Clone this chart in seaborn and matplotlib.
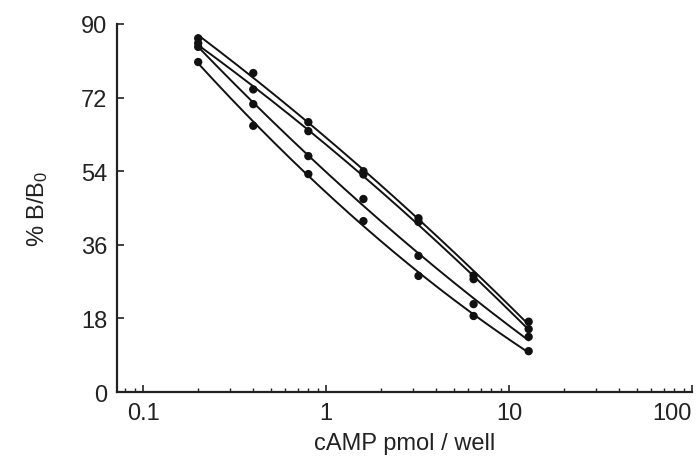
import seaborn as sns
import matplotlib.pyplot as plt
import matplotlib.ticker as mticker
import pandas as pd
import numpy as np

# --- data ---
camp = [0.2, 0.4, 0.8, 1.6, 3.2, 6.4, 12.8]
series_a = [86.5, 78.0, 66.0, 54.0, 42.5, 28.5, 17.2]
series_b = [85.3, 74.0, 63.8, 53.2, 41.6, 27.6, 15.4]
series_c = [84.4, 70.4, 57.7, 47.2, 33.3, 21.5, 13.5]
series_d = [80.7, 65.1, 53.3, 41.8, 28.4, 18.6, 10.0]
names = ["A", "B", "C", "D"]
x_ticks = [0.1, 1, 10, 100]
x_tick_labels = ["0.1", "1", "10", "100"]
y_ticks = [0, 18, 36, 54, 72, 90]

# long table of points
rows = []
for name, vals in zip(names, [series_a, series_b, series_c, series_d]):
    for x, y in zip(camp, vals):
        rows.append({"series": name, "cAMP": x, "B": y})
df = pd.DataFrame(rows)

# smooth fitted curve per series (quadratic in log x)
fits = []
xs = np.logspace(np.log10(camp[0]), np.log10(camp[-1]), 200)
for name, grp in df.groupby("series"):
    coef = np.polyfit(np.log10(grp["cAMP"]), grp["B"], 2)
    fits.append(pd.DataFrame({"series": name, "cAMP": xs,
                              "B": np.polyval(coef, np.log10(xs))}))
fit_df = pd.concat(fits)

# --- styling ---
sns.set_style("ticks")
plt.rcParams["font.family"] = ["Liberation Sans", "DejaVu Sans"]
plt.rcParams["mathtext.default"] = "regular"

fig = plt.figure(figsize=(6.99, 4.77), dpi=100)
ax = fig.add_axes([0.1674, 0.176, 0.8226, 0.7716])

black = {n: "#111111" for n in names}
sns.lineplot(data=fit_df, x="cAMP", y="B", hue="series", palette=black,
             linewidth=1.4, legend=False, ax=ax, estimator=None, sort=False)
sns.scatterplot(data=df, x="cAMP", y="B", hue="series", palette=black,
                s=36, edgecolor="none", legend=False, ax=ax, zorder=3)

ax.set_xscale("log")
ax.set_xlim(0.072, 100)
ax.set_ylim(0, 90)
ax.set_xticks(x_ticks)
ax.set_xticklabels(x_tick_labels)
ax.xaxis.set_minor_locator(mticker.LogLocator(base=10, subs=np.arange(2, 10)))
ax.xaxis.set_minor_formatter(mticker.NullFormatter())
ax.set_yticks(y_ticks)

ax.tick_params(axis="both", which="major", direction="in", length=5, width=1.2,
               labelsize=17, colors="#222222", pad=7)
ax.tick_params(axis="x", which="minor", direction="in", length=3, width=1.0,
               colors="#222222")
# last x label sits inside the figure edge, as in the reference
ax.get_xticklabels()[-1].set_horizontalalignment("right")
ax.get_xticklabels()[-1].set_x(100)

for side in ["left", "bottom"]:
    ax.spines[side].set_linewidth(1.6)
    ax.spines[side].set_color("#222222")
sns.despine(ax=ax)

ax.set_xlabel("cAMP pmol / well", fontsize=17, color="#222222", labelpad=6)
ax.set_ylabel("% B/B$_0$", fontsize=17, color="#222222", labelpad=22)

plt.savefig("out.png", dpi=100)
plt.close()
